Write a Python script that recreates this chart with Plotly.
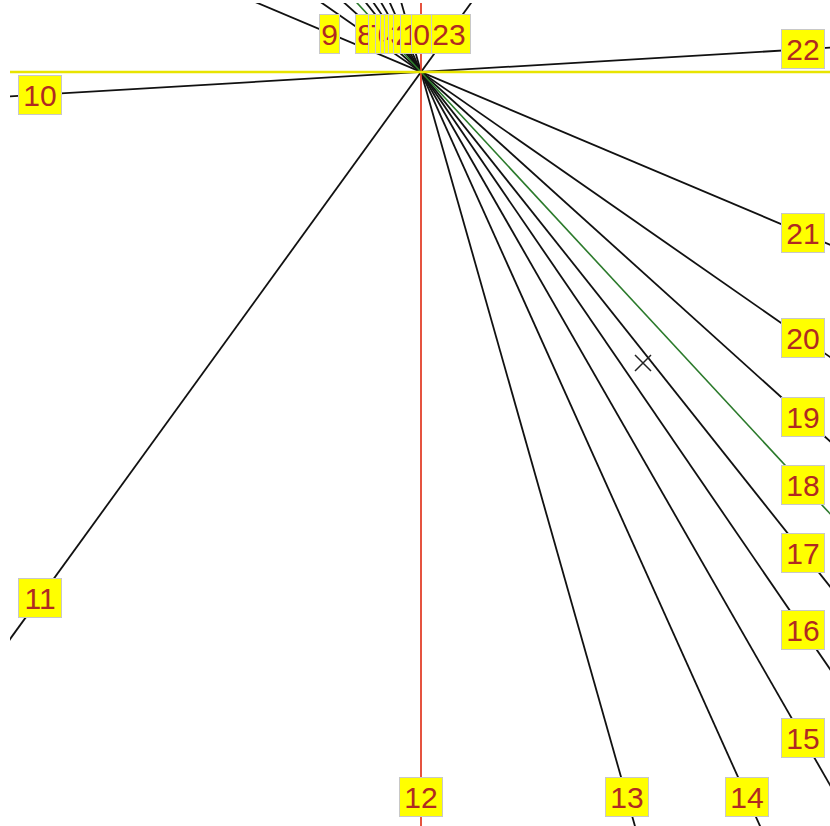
import numpy as np
import plotly.graph_objects as go

# Hour lines of the dial (afternoon hours); each line also carries the hour 12 h earlier
line_hours = [12, 13, 14, 15, 16, 17, 18, 19, 20, 21, 22, 23]
# angle of each hour line, degrees clockwise from the noon line (pointing down)
line_angles = [0.0, 15.84, 24.21, 29.84, 34.41, 38.48, 42.8, 47.93, 55.13, 67.11, 93.4, 144.07]
label_hours = list(range(24))
horizon_angle = 90.0
marker_point_x = [222]
marker_point_y = [-291]

R = 4000
BOX = dict(x0=-381, x1=382, y0=-725, y1=38.5)


def direction(deg):
    a = np.radians(deg)
    return np.sin(a), -np.cos(a)


def line_color(h):
    if h == 12:
        return "#e3402b"
    if h == 18:
        return "#2b7a2b"
    return "#111111"


fig = go.Figure()

for h, ang in zip(line_hours, line_angles):
    if h in (12, 18):
        continue
    dx, dy = direction(ang)
    fig.add_trace(go.Scatter(x=[-R * dx, R * dx], y=[-R * dy, R * dy], mode="lines",
                             line=dict(color=line_color(h), width=1.8), hoverinfo="skip"))
for h, ang in zip(line_hours, line_angles):
    if h not in (12, 18):
        continue
    dx, dy = direction(ang)
    fig.add_trace(go.Scatter(x=[-R * dx, R * dx], y=[-R * dy, R * dy], mode="lines",
                             line=dict(color=line_color(h), width=1.8 if h == 12 else 1.6),
                             hoverinfo="skip"))

hx, hy = direction(horizon_angle)
fig.add_trace(go.Scatter(x=[-R * hx, R * hx], y=[-R * hy, R * hy], mode="lines",
                         line=dict(color="#e8e400", width=2.5), hoverinfo="skip"))

fig.add_trace(go.Scatter(x=marker_point_x, y=marker_point_y, mode="markers",
                         marker=dict(symbol="x-thin", size=16, color="#222222",
                                     line=dict(width=1.5, color="#222222")),
                         hoverinfo="skip"))

angle_of = dict(zip(line_hours, line_angles))
for h in sorted(label_hours, reverse=True):
    ang = angle_of[h] if h >= 12 else angle_of[h + 12] + 180.0
    dx, dy = direction(ang)
    ts = []
    if dx > 1e-9:
        ts.append(BOX["x1"] / dx)
    if dx < -1e-9:
        ts.append(BOX["x0"] / dx)
    if dy > 1e-9:
        ts.append(BOX["y1"] / dy)
    if dy < -1e-9:
        ts.append(BOX["y0"] / dy)
    t = min(ts)
    txt = str(h)
    fig.add_annotation(x=t * dx, y=t * dy, text=txt, showarrow=False,
                       font=dict(family="Liberation Sans, Arial, sans-serif", size=30, color="#b02a22"),
                       bgcolor="#ffff00", bordercolor="#c8c8c8", borderwidth=1, borderpad=1,
                       width=17 if len(txt) == 1 else 40, height=36, align="center",
                       xanchor="center", yanchor="middle")

fig.update_layout(
    width=830, height=826,
    margin=dict(l=10, r=0, t=3, b=0, pad=0),
    paper_bgcolor="white", plot_bgcolor="white",
    showlegend=False,
    hovermode=False,
    xaxis=dict(range=[-411, 409], visible=False, fixedrange=True),
    yaxis=dict(range=[-754, 69], visible=False, fixedrange=True),
)

fig.write_html("out.html",
               config={"displayModeBar": False, "staticPlot": True},
               post_script="document.body.style.margin='0px';document.body.style.overflow='hidden';")
